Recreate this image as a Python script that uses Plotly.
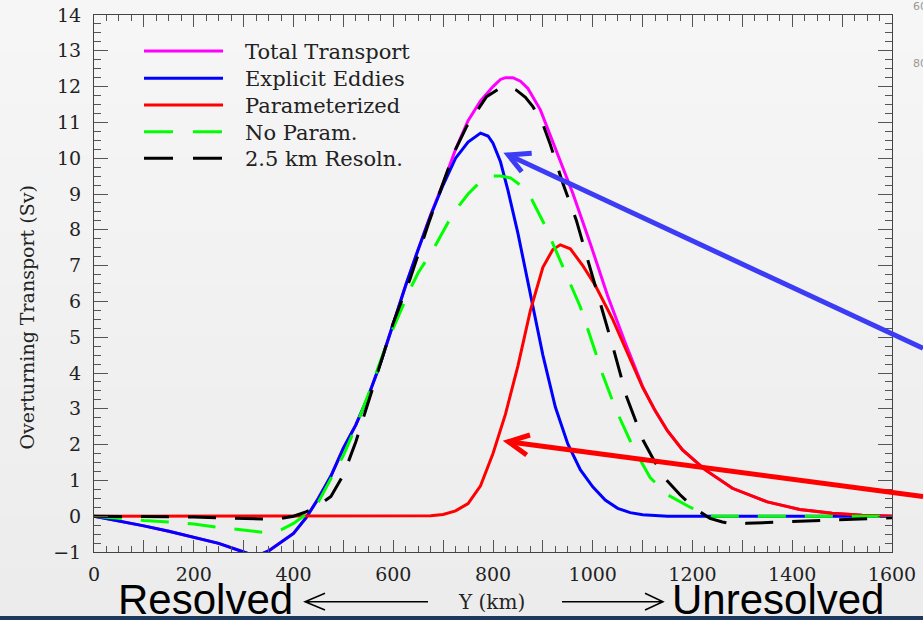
import plotly.graph_objects as go

# ---------------- data ----------------
X_EDDY = [0, 50, 100, 150, 200, 250, 300, 325, 350, 375, 400, 425, 450, 475, 500, 525, 550, 575, 600,
          625, 650, 675, 700, 725, 750, 775, 790, 800, 815, 830, 850, 875, 900, 925, 950, 975, 1000,
          1025, 1050, 1075, 1100, 1150, 1600]
Y_EDDY = [0, -0.13, -0.27, -0.42, -0.58, -0.76, -1.0, -1.12, -0.97, -0.72, -0.48, -0.05, 0.5, 1.12, 1.9,
          2.55, 3.35, 4.3, 5.4, 6.45, 7.45, 8.4, 9.25, 10.0, 10.45, 10.7, 10.62, 10.42, 9.9, 9.1, 7.9,
          6.15, 4.5, 3.05, 2.02, 1.3, 0.82, 0.45, 0.22, 0.1, 0.04, 0.0, 0.0]

X_TOTAL = [0, 50, 100, 150, 200, 250, 300, 325, 350, 375, 400, 425, 450, 475, 500, 525, 550, 575, 600,
           625, 650, 675, 700, 725, 750, 775, 800, 815, 825, 840, 855, 870, 895, 925, 960, 995, 1030,
           1065, 1090, 1100, 1125, 1150, 1180, 1225, 1280, 1350, 1415, 1480, 1540, 1600]
Y_TOTAL = [0, -0.13, -0.27, -0.42, -0.58, -0.76, -1.0, -1.12, -0.97, -0.72, -0.48, -0.05, 0.5, 1.12, 1.9,
           2.55, 3.35, 4.3, 5.4, 6.45, 7.45, 8.42, 9.3, 10.25, 11.05, 11.6, 12.0, 12.2, 12.25, 12.25,
           12.15, 11.95, 11.35, 10.3, 9.02, 7.62, 6.15, 4.85, 3.95, 3.62, 2.95, 2.38, 1.85, 1.3, 0.78,
           0.4, 0.19, 0.08, 0.03, 0.0]

X_PARAM = [0, 650, 675, 700, 725, 750, 775, 800, 825, 850, 875, 900, 920, 935, 955, 980, 1005, 1040,
           1075, 1100, 1125, 1150, 1180, 1225, 1280, 1350, 1415, 1480, 1540, 1600]
Y_PARAM = [0, 0, 0.01, 0.05, 0.15, 0.35, 0.85, 1.75, 2.85, 4.2, 5.75, 6.95, 7.45, 7.58, 7.47, 7.0, 6.45,
           5.5, 4.4, 3.6, 2.95, 2.38, 1.85, 1.3, 0.78, 0.4, 0.19, 0.08, 0.03, 0.0]

X_NOPARAM = [0, 50, 100, 150, 200, 250, 300, 340, 375, 400, 425, 450, 475, 500, 525, 550, 580, 600, 633,
             650, 680, 700, 720, 750, 775, 795, 815, 835, 855, 875, 905, 940, 975, 1005, 1020, 1047,
             1080, 1115, 1150, 1195, 1240, 1600]
Y_NOPARAM = [0, -0.07, -0.12, -0.16, -0.22, -0.31, -0.39, -0.45, -0.38, -0.2, 0.05, 0.4, 1.05, 1.7, 2.5,
             3.4, 4.55, 5.25, 6.32, 6.8, 7.45, 7.95, 8.46, 9.0, 9.35, 9.5, 9.5, 9.45, 9.25, 8.92, 8.1,
             6.97, 5.85, 4.6, 3.95, 2.96, 1.95, 1.08, 0.6, 0.25, 0.0, 0.0]

X_HIRES = [0, 100, 200, 250, 300, 350, 380, 400, 425, 450, 475, 500, 525, 550, 583, 600, 633, 650, 673,
           707, 725, 747, 770, 787, 813, 830, 847, 865, 880, 900, 914, 940, 967, 994, 1021, 1041, 1068,
           1101, 1125, 1148, 1175, 1194, 1215, 1235, 1260, 1282, 1308, 1350, 1395, 1450, 1495, 1550, 1600]
Y_HIRES = [0, 0, -0.02, -0.05, -0.07, -0.08, -0.05, 0, 0.12, 0.3, 0.55, 1.15, 2.08, 3.2, 4.64, 5.4, 6.6,
           7.3, 8.27, 9.58, 10.25, 10.88, 11.35, 11.72, 11.95, 12.0, 11.9, 11.7, 11.44, 10.95, 10.42,
           9.3, 8.27, 6.97, 5.67, 4.7, 3.33, 2.12, 1.5, 1.01, 0.6, 0.35, 0.12, -0.06, -0.16, -0.22,
           -0.2, -0.18, -0.16, -0.13, -0.11, -0.07, -0.04]

SERIES_NAMES = ["Total Transport", "Explicit Eddies", "Parameterized", "No Param.", "2.5 km Resoln."]
X_TICK_VALUES = list(range(0, 1601, 100))
X_TICK_LABELS = ["0", "", "200", "", "400", "", "600", "", "800", "", "1000", "", "1200", "", "1400", "", "1600"]
Y_TICK_VALUES = list(range(-1, 15))
Y_TICK_LABELS = ["\u22121", "0", "1", "2", "3", "4", "5", "6", "7", "8", "9", "10", "11", "12", "13", "14"]

# ---------------- layout helpers ----------------
W, H = 923, 620
L, R, T, B = 94, 31, 15, 68
PW, PH = W - L - R, H - T - B


def px(xp):
    return (xp - L) / PW


def py(yp):
    return (T + PH - yp) / PH


SERIF = "DejaVu Serif"
COLORS = ["#ff00ff", "#0000ff", "#ff0000", "#00ff00", "#000000"]
DASHES = ["solid", "solid", "solid", "28px,19px", "28px,19px"]
DATA = [(X_TOTAL, Y_TOTAL), (X_EDDY, Y_EDDY), (X_PARAM, Y_PARAM), (X_NOPARAM, Y_NOPARAM), (X_HIRES, Y_HIRES)]

fig = go.Figure()
for (xs, ys), name, c, d in zip(DATA, SERIES_NAMES, COLORS, DASHES):
    fig.add_trace(go.Scatter(x=xs, y=ys, mode="lines", name=name, showlegend=False,
                             line=dict(color=c, width=3, dash=d)))

shapes = []
annotations = []

# background gradient bands
nb = 24
for i in range(nb):
    v = int(round(246 - (246 - 236) * i / (nb - 1)))
    y0p = i * H / nb
    y1p = (i + 1) * H / nb + 1
    shapes.append(dict(type="rect", xref="paper", yref="paper", layer="below",
                       x0=px(0), x1=px(W), y0=py(y0p), y1=py(y1p),
                       fillcolor=f"rgb({v},{v},{v})", line=dict(width=0)))

# bottom navy bar
shapes.append(dict(type="rect", xref="paper", yref="paper", x0=px(0), x1=px(W), y0=py(616), y1=py(H + 5),
                   fillcolor="#1d3a5e", line=dict(width=0)))

# manual legend
rows = [51, 78.3, 105, 131.7, 158.3]
for name, c, d, yr in zip(SERIES_NAMES, COLORS, DASHES, rows):
    shapes.append(dict(type="line", xref="paper", yref="paper", x0=px(144), x1=px(223), y0=py(yr), y1=py(yr),
                       line=dict(color=c, width=3, dash=("solid" if d == "solid" else "29px,20px"))))
    annotations.append(dict(xref="paper", yref="paper", x=px(243), y=py(yr + 1), xanchor="left", yanchor="middle",
                            text=name, showarrow=False, font=dict(family=SERIF, size=21, color="#222")))


def path(points):
    segs = []
    for i, (a, b) in enumerate(points):
        segs.append(("M" if i == 0 else "L") + f"{px(a):.5f},{py(b):.5f}")
    return " ".join(segs)


# blue pointer arrow
shapes.append(dict(type="path", xref="paper", yref="paper", path=path([(923, 348.3), (508.3, 155)]),
                   line=dict(color="#3c3cf5", width=5)))
shapes.append(dict(type="path", xref="paper", yref="paper",
                   path=path([(531.7, 153.3), (508.3, 155), (521.7, 171.7)]),
                   line=dict(color="#3c3cf5", width=5)))
# red pointer arrow
shapes.append(dict(type="path", xref="paper", yref="paper", path=path([(923, 496.4), (508.3, 441.7)]),
                   line=dict(color="#ff0000", width=5)))
shapes.append(dict(type="path", xref="paper", yref="paper",
                   path=path([(530, 435), (508.3, 441.7), (526.7, 455)]),
                   line=dict(color="#ff0000", width=5)))

# thin arrows around the axis title
shapes.append(dict(type="path", xref="paper", yref="paper",
                   path=path([(428, 601.7), (305, 601.7)]) + " " + path([(325, 593.3), (305, 601.7), (325, 610)]),
                   line=dict(color="#000", width=1.5)))
shapes.append(dict(type="path", xref="paper", yref="paper",
                   path=path([(562, 601.7), (663, 601.7)]) + " " + path([(645, 593.3), (663, 601.7), (645, 610)]),
                   line=dict(color="#000", width=1.5)))

annotations += [
    dict(xref="paper", yref="paper", x=px(116), y=py(599), xanchor="left", yanchor="middle", text="Resolved",
         showarrow=False, font=dict(family="Liberation Sans", size=42, color="#000")),
    dict(xref="paper", yref="paper", x=px(670), y=py(599), xanchor="left", yanchor="middle", text="Unresolved",
         showarrow=False, font=dict(family="Liberation Sans", size=42, color="#000")),
    dict(xref="paper", yref="paper", x=px(491.5), y=py(602), xanchor="center", yanchor="middle", text="Y (km)",
         showarrow=False, font=dict(family=SERIF, size=20, color="#222")),
    dict(xref="paper", yref="paper", x=px(26), y=py(317.5), xanchor="center", yanchor="middle",
         text="Overturning Transport (Sv)", textangle=-90,
         showarrow=False, font=dict(family=SERIF, size=19, color="#222")),
    dict(xref="paper", yref="paper", x=px(911), y=py(6), xanchor="left", yanchor="middle", text="60",
         showarrow=False, font=dict(family="DejaVu Sans", size=11, color="#999")),
    dict(xref="paper", yref="paper", x=px(911), y=py(63), xanchor="left", yanchor="middle", text="80",
         showarrow=False, font=dict(family="DejaVu Sans", size=11, color="#999")),
]

fig.update_layout(
    width=W, height=H, margin=dict(l=L, r=R, t=T, b=B, pad=0, autoexpand=False),
    paper_bgcolor="#f1f1f1", plot_bgcolor="rgba(0,0,0,0)",
    shapes=shapes, annotations=annotations, showlegend=False,
)
fig.update_xaxes(range=[0, 1600], showline=True, linecolor="#444", linewidth=1, mirror="ticks",
                 ticks="inside", ticklen=12, tickwidth=1, tickcolor="#555", automargin=False,
                 tickmode="array", tickvals=X_TICK_VALUES, ticktext=X_TICK_LABELS,
                 minor=dict(tickmode="linear", tick0=0, dtick=25, ticks="inside", ticklen=6, tickcolor="#555"),
                 showgrid=False, zeroline=False, ticklabelstandoff=5,
                 tickfont=dict(family=SERIF, size=19, color="#222"))
fig.update_yaxes(range=[-1, 14], showline=True, linecolor="#444", linewidth=1, mirror="ticks",
                 ticks="inside", ticklen=14, tickwidth=1, tickcolor="#555", automargin=False,
                 tickmode="array", tickvals=Y_TICK_VALUES, ticktext=Y_TICK_LABELS,
                 minor=dict(tickmode="linear", tick0=0, dtick=0.25, ticks="inside", ticklen=7, tickcolor="#555"),
                 showgrid=False, zeroline=False, ticklabelstandoff=8,
                 tickfont=dict(family=SERIF, size=19, color="#222"))

fig.write_html(
    "out.html",
    post_script="document.body.style.margin='0';document.body.style.padding='0';"
                "document.documentElement.style.overflow='hidden';document.body.style.overflow='hidden';",
)
